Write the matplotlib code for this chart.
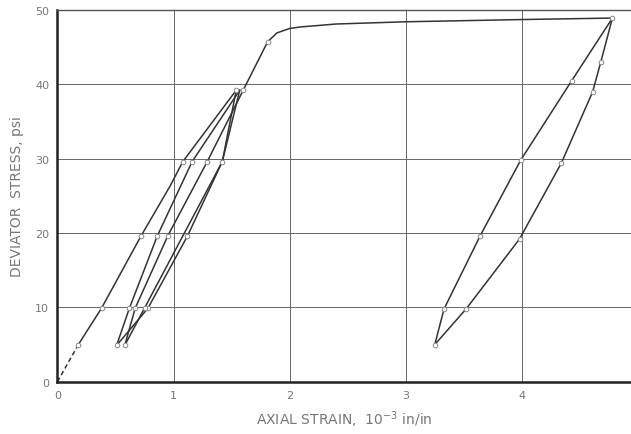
import numpy as np
import matplotlib
matplotlib.use("Agg")
import matplotlib.pyplot as plt

# initial loading (dashed start, then solid)
dash_x = [0.0, 0.18]
dash_y = [0.0, 5.0]
load0_x = [0.18, 0.38, 0.72, 0.97, 1.08, 1.54]
load0_y = [5.0, 9.9, 19.6, 26.3, 29.6, 39.2]

# small unload / reload loops between 5 and 40 psi
unload1_x = [1.54, 1.42, 1.12, 0.78, 0.51]
unload1_y = [39.2, 29.6, 19.6, 9.9, 4.9]
reload1_x = [0.51, 0.62, 0.86, 1.16, 1.57]
reload1_y = [4.9, 9.9, 19.6, 29.6, 39.2]
unload2_x = [1.57, 1.42, 1.08, 0.75, 0.58]
unload2_y = [39.2, 29.6, 19.6, 9.9, 4.9]
reload2_x = [0.58, 0.67, 0.95, 1.29, 1.60]
reload2_y = [4.9, 9.9, 19.6, 29.6, 39.2]

# envelope up to failure
env_x = [1.60, 1.81, 1.89, 2.00, 2.09, 2.4, 3.0, 4.0, 4.78]
env_y = [39.2, 45.7, 46.9, 47.5, 47.7, 48.1, 48.4, 48.7, 48.9]

# large loop at the end
unload3_x = [4.78, 4.68, 4.61, 4.34, 3.98, 3.52, 3.25]
unload3_y = [48.9, 43.0, 39.0, 29.4, 19.2, 9.8, 5.0]
reload3_x = [3.25, 3.33, 3.64, 3.99, 4.43, 4.78]
reload3_y = [5.0, 9.8, 19.6, 29.8, 40.5, 48.9]

# measured points (open circles)
pts_x = [0.18, 0.38, 0.72, 1.08, 1.54, 1.60,
         1.42, 1.12, 0.78, 0.51, 0.62, 0.86, 1.16,
         1.29, 0.75, 0.58, 0.67, 0.95, 1.81, 4.78,
         4.68, 4.61, 4.34, 3.98, 3.52, 3.25, 3.33, 3.64, 3.99, 4.43]
pts_y = [5.0, 9.9, 19.6, 29.6, 39.2, 39.2,
         29.6, 19.6, 9.9, 4.9, 9.9, 19.6, 29.6,
         29.6, 9.9, 4.9, 9.9, 19.6, 45.7, 48.9,
         43.0, 39.0, 29.4, 19.2, 9.8, 5.0, 9.8, 19.6, 29.8, 40.5]

xticks = [0, 1, 2, 3, 4]
yticks = [0, 10, 20, 30, 40, 50]

line_c = "#333333"
text_c = "#777777"

fig = plt.figure(figsize=(6.31, 4.35), dpi=100)
ax = fig.add_axes([0.091, 0.12, 0.909, 0.855])

ax.plot(dash_x, dash_y, color=line_c, lw=1.1, ls=(0, (3, 2)))
for xs, ys in [(load0_x, load0_y), (unload1_x, unload1_y), (reload1_x, reload1_y),
               (unload2_x, unload2_y), (reload2_x, reload2_y), (env_x, env_y),
               (unload3_x, unload3_y), (reload3_x, reload3_y)]:
    ax.plot(xs, ys, color=line_c, lw=1.1)

ax.scatter(pts_x, pts_y, s=11, facecolors="white", edgecolors="#888888",
           linewidths=0.7, zorder=3)

ax.set_xlim(0, 4.94)
ax.set_ylim(0, 50)
ax.set_xticks(xticks)
ax.set_yticks(yticks)
ax.grid(True, color="#666666", lw=0.7)
ax.set_axisbelow(True)
ax.tick_params(length=0, labelsize=8, labelcolor=text_c, pad=6)

ax.spines["right"].set_visible(False)
ax.spines["top"].set_color("#555555")
ax.spines["top"].set_linewidth(1.0)
for s in ["left", "bottom"]:
    ax.spines[s].set_color("#222222")
    ax.spines[s].set_linewidth(1.8)

ax.set_ylabel("DEVIATOR  STRESS, psi", fontsize=10, color=text_c, labelpad=8)
ax.set_xlabel(r"AXIAL STRAIN,  10$^{-3}$ in/in", fontsize=10, color=text_c, labelpad=6)

plt.savefig("out.png", dpi=100)
plt.close()
